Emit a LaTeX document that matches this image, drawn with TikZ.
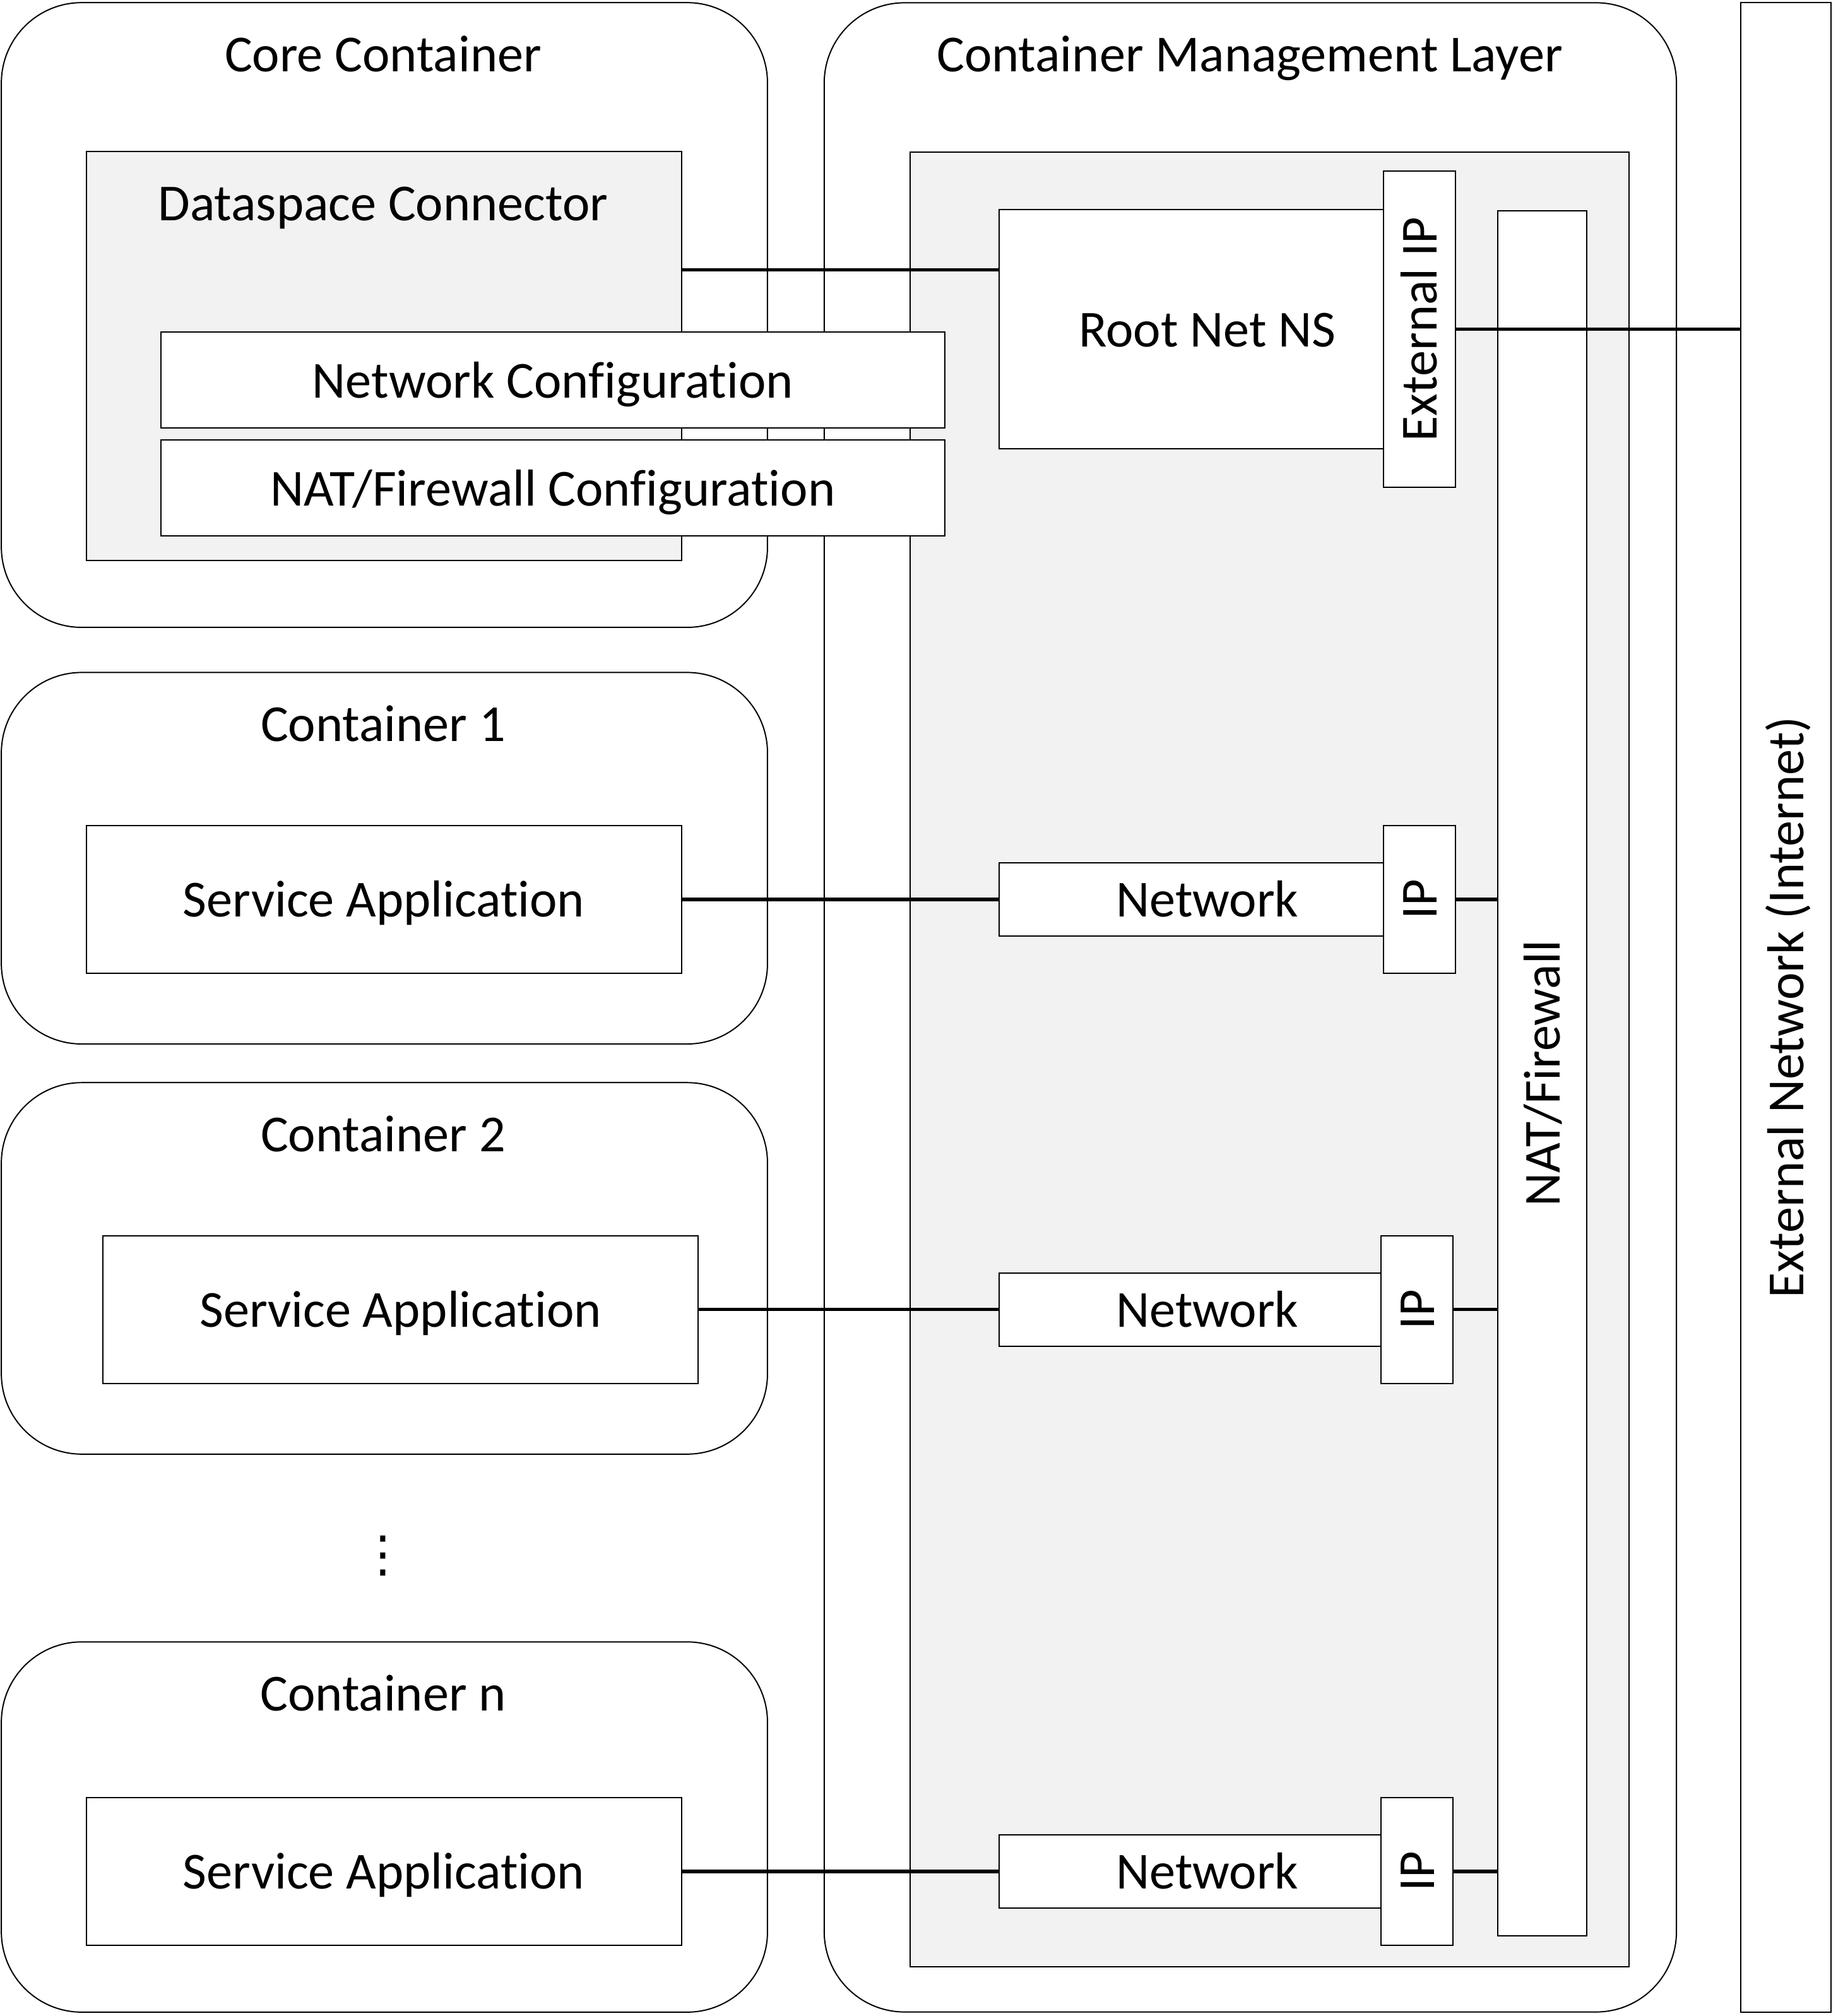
\documentclass[tikz,border=0pt]{standalone}
\usepackage{fontspec}
\setmainfont{Carlito}[Ligatures=NoCommon]
\newfontfamily\symfont{DejaVu Sans}
\definecolor{panel}{HTML}{F2F2F2}
\begin{document}
\begin{tikzpicture}[x=0.02cm, y=-0.02cm,
  box/.style = {draw, line width=0.55pt, fill=white, inner sep=0pt, text height=21.9pt, text depth=6.2pt, font=\fontsize{23}{27}\selectfont},
  container/.style = {box, rounded corners=1.25cm},
  shaded/.style = {box, fill=panel},
  title/.style = {inner sep=0pt, text height=21.9pt, text depth=6.2pt, font=\fontsize{23}{27}\selectfont},
  link/.style = {line width=1.5pt}]
  \useasboundingbox (0,0) rectangle (1433,1568);

  % containers on the left
  \node[container, minimum width=11.92cm, minimum height=9.72cm] (core) at (299,245) {};
  \node[container, minimum width=11.92cm, minimum height=5.78cm] (c1) at (299,667.5) {};
  \node[container, minimum width=11.92cm, minimum height=5.78cm] (c2) at (299,986.5) {};
  \node[container, minimum width=11.92cm, minimum height=5.76cm] (cn) at (299,1421) {};
  \node[title] (coret) at (298,42) {Core Container};
  \node[title] (c1t) at (298,563) {Container 1};
  \node[title] (c2t) at (298,882) {Container 2};
  \node[title] (cnt) at (298,1317) {Container n};
  \node[inner sep=0pt, font=\symfont\fontsize{22}{26}\selectfont] (dots) at (298,1210) {⋮};

  % management layer
  \node[container, minimum width=13.26cm, minimum height=31.26cm] (cml) at (972.5,783.5) {};
  \node[title] (cmlt) at (972,42) {Container Management Layer};
  \node[shaded, minimum width=11.18cm, minimum height=28.24cm] (cmlin) at (987.5,824) {};
  \node[box, minimum width=6.48cm, minimum height=3.72cm] (root) at (939,256) {Root Net NS};
  \node[box, minimum width=4.92cm, minimum height=1.12cm, rotate=90] (extip) at (1104,256) {External IP};
  \node[box, minimum width=26.84cm, minimum height=1.38cm, rotate=90] (natfw) at (1199.5,835) {NAT/Firewall};
  \node[box, minimum width=31.26cm, minimum height=1.4cm, rotate=90] (extnet) at (1389,783.5) {External Network (Internet)};

  % core container content
  \node[shaded, minimum width=9.26cm, minimum height=6.36cm] (dsc) at (298.5,277) {};
  \node[title] (dsct) at (298,158) {Dataspace Connector};
  \node[box, minimum width=12.2cm, minimum height=1.5cm] (netconf) at (430,295.5) {Network Configuration};
  \node[box, minimum width=12.2cm, minimum height=1.5cm] (natconf) at (430,379.5) {NAT/Firewall Configuration};

  % service applications
  \node[box, minimum width=9.26cm, minimum height=2.3cm] (app1) at (298.5,699.5) {Service Application};
  \node[box, minimum width=9.26cm, minimum height=2.3cm] (app2) at (311.5,1018.5) {Service Application};
  \node[box, minimum width=9.26cm, minimum height=2.3cm] (appn) at (298.5,1455.5) {Service Application};

  % networks
  \node[box, minimum width=6.48cm, minimum height=1.14cm] (net1) at (939,699.5) {Network};
  \node[box, minimum width=6.48cm, minimum height=1.14cm] (net2) at (939,1018.5) {Network};
  \node[box, minimum width=6.48cm, minimum height=1.14cm] (netn) at (939,1455.5) {Network};
  \node[box, minimum width=2.3cm, minimum height=1.12cm, rotate=90] (ip1) at (1104,699.5) {IP};
  \node[box, minimum width=2.3cm, minimum height=1.12cm, rotate=90] (ip2) at (1102,1018.5) {IP};
  \node[box, minimum width=2.3cm, minimum height=1.12cm, rotate=90] (ipn) at (1102,1455.5) {IP};

  \coordinate (c0) at (650,210);
  \draw[link] (dsc.east |- c0) -- (root.west |- c0);
  \draw[link] (extip.south) -- (extip.south -| extnet.north);
  \draw[link] (app1.east) -- (net1.west);
  \draw[link] (app2.east) -- (net2.west);
  \draw[link] (appn.east) -- (netn.west);
  \draw[link] (ip1.south) -- (ip1.south -| natfw.north);
  \draw[link] (ip2.south) -- (ip2.south -| natfw.north);
  \draw[link] (ipn.south) -- (ipn.south -| natfw.north);
\end{tikzpicture}
\end{document}
